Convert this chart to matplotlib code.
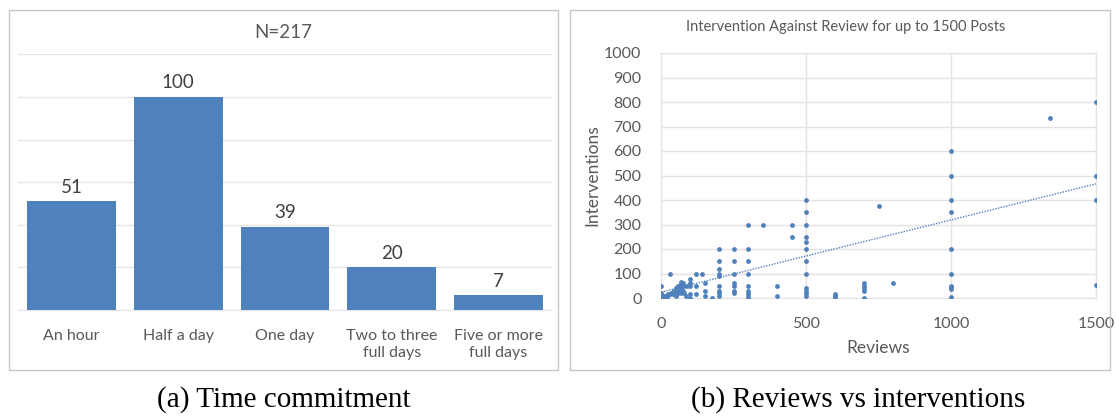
import matplotlib.pyplot as plt
import numpy as np
from matplotlib.patches import Rectangle

# data, left panel (time commitment)
categories = ["An hour", "Half a day", "One day", "Two to three\nfull days", "Five or more\nfull days"]
counts = [51, 100, 39, 20, 7]

# data, right panel (reviews vs interventions)
reviews = [0, 0, 0, 0,
           2, 5, 5, 8, 10, 10, 15, 15, 20, 20, 25, 25, 30, 30, 35, 40, 40, 45, 45,
           50, 50, 50, 55, 55, 60, 60, 65, 65, 70, 70, 70, 75, 75, 80, 80, 85, 90,
           100, 100, 100, 100, 100,
           120, 120, 120, 140,
           150, 150, 150, 175,
           200, 200, 200, 200, 200, 200, 200, 200, 200,
           250, 250, 250, 250, 250, 250, 250,
           300, 300, 300, 300, 300, 300, 300, 300,
           350, 400, 400, 450, 450,
           500, 500, 500, 500, 500, 500, 500, 500, 500, 500, 500, 500,
           600, 600, 600,
           700, 700, 700, 700, 700,
           750, 800,
           1000, 1000, 1000, 1000, 1000, 1000, 1000, 1000, 1000, 1000,
           1340,
           1500, 1500, 1500, 1500]
interventions = [0, 12, 20, 50,
                 2, 0, 5, 3, 8, 2, 5, 10, 10, 5, 12, 15, 15, 100, 20, 15, 25, 20, 30,
                 10, 25, 40, 30, 45, 20, 50, 55, 35, 65, 20, 40, 30, 60, 50, 20, 10, 50,
                 0, 15, 50, 60, 78,
                 100, 50, 15, 100,
                 60, 30, 10, 0,
                 200, 150, 120, 100, 90, 50, 30, 20, 10,
                 200, 150, 100, 60, 50, 30, 20,
                 300, 200, 150, 100, 50, 30, 15, 5,
                 300, 50, 10, 300, 250,
                 400, 350, 300, 250, 230, 200, 150, 100, 40, 30, 20, 10,
                 15, 10, 5,
                 60, 50, 40, 30, 0,
                 375, 60,
                 600, 500, 400, 350, 200, 100, 50, 45, 35, 5,
                 735,
                 800, 500, 400, 55]
trend_x = [0, 1500]
trend_y = [24, 466]

blue = "#4F81BD"
grey_text = "#595959"

plt.rcParams['font.family'] = ['Lato', 'DejaVu Sans']

fig = plt.figure(figsize=(11.16, 4.2), dpi=100)
W, H = 1116, 420


def px(x0, y0, x1, y1):
    # pixel box (top-left origin) -> figure fraction rect
    return [x0 / W, 1 - y1 / H, (x1 - x0) / W, (y1 - y0) / H]


# panel frames
for x0, x1 in [(9, 558), (570, 1110)]:
    fig.patches.append(Rectangle((x0 / W, 1 - 370 / H), (x1 - x0) / W, 360 / H,
                                 transform=fig.transFigure, fill=False,
                                 edgecolor="#C8C8C8", linewidth=1))

# ---- bar chart ----
ax1 = fig.add_axes(px(18, 54.4, 552, 310))
xpos = np.arange(len(categories))
bars = ax1.bar(xpos, counts, width=0.83, color=blue, zorder=3)
ax1.bar_label(bars, padding=4, fontsize=13.5, color="#404040")
ax1.set_xlim(-0.5, len(categories) - 0.5)
ax1.set_ylim(0, 120)
ax1.set_yticks(np.arange(0, 121, 20))
ax1.yaxis.grid(True, color="#E6E6E6", linewidth=1, zorder=0)
ax1.tick_params(left=False, labelleft=False, bottom=False)
ax1.set_xticks(xpos, categories, fontsize=11.5, color=grey_text, linespacing=1.25)
ax1.tick_params(axis="x", pad=10)
for s in ["left", "right", "top"]:
    ax1.spines[s].set_visible(False)
ax1.spines["bottom"].set_color("#E6E6E6")
fig.text(283.5 / W, 1 - 32 / H, "N=217", ha="center", va="center",
         fontsize=13.5, color=grey_text)

# ---- scatter ----
ax2 = fig.add_axes(px(661, 53, 1096, 298))
ax2.scatter(reviews, interventions, s=12, color=blue, zorder=3, linewidths=0)
ax2.plot(trend_x, trend_y, linestyle=(0, (1, 1)), color=blue, linewidth=1, zorder=2)
ax2.set_xlim(0, 1500)
ax2.set_ylim(0, 1000)
ax2.set_xticks([0, 500, 1000, 1500])
ax2.set_yticks(np.arange(0, 1001, 100))
ax2.grid(True, color="#E3E3E3", linewidth=1, zorder=0)
ax2.tick_params(length=0, labelsize=11.5, labelcolor=grey_text)
ax2.tick_params(axis="y", pad=14)
ax2.tick_params(axis="x", pad=14)
for s in ax2.spines.values():
    s.set_color("#E3E3E3")
ax2.set_xlabel("Reviews", fontsize=12.5, color=grey_text, labelpad=6)
ax2.set_ylabel("Interventions", fontsize=12.5, color=grey_text, labelpad=3)
fig.text(846 / W, 1 - 27 / H, "Intervention Against Review for up to 1500 Posts",
         ha="center", va="center", fontsize=10.5, color=grey_text)

# captions
fig.text(284 / W, 1 - 400 / H, "(a) Time commitment", ha="center", va="center",
         fontsize=21, family="Liberation Serif", color="black")
fig.text(858 / W, 1 - 400 / H, "(b) Reviews vs interventions", ha="center", va="center",
         fontsize=21, family="Liberation Serif", color="black")

fig.savefig("out.png", dpi=100)
